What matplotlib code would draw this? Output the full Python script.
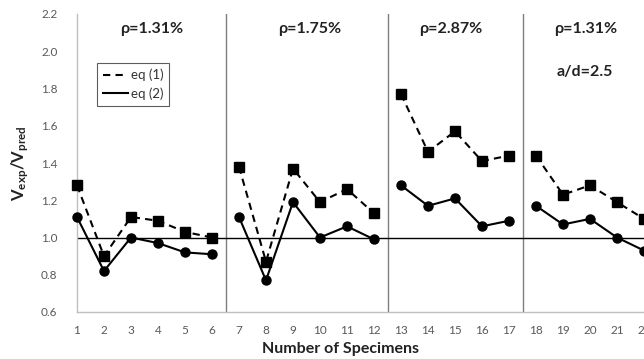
import matplotlib
matplotlib.use("Agg")
import matplotlib.pyplot as plt
from matplotlib.lines import Line2D

plt.rcParams['font.family'] = ['Lato', 'DejaVu Sans']
plt.rcParams['mathtext.fontset'] = 'custom'
plt.rcParams['mathtext.rm'] = 'Lato'
plt.rcParams['mathtext.bf'] = 'Lato:bold'

# Data
groups_x = [[1, 2, 3, 4, 5, 6], [7, 8, 9, 10, 11, 12], [13, 14, 15, 16, 17], [18, 19, 20, 21, 22]]
eq1 = [[1.28, 0.90, 1.11, 1.09, 1.03, 1.00],
       [1.38, 0.87, 1.37, 1.19, 1.26, 1.13],
       [1.77, 1.46, 1.57, 1.41, 1.44],
       [1.44, 1.23, 1.28, 1.19, 1.10]]
eq2 = [[1.11, 0.82, 1.00, 0.97, 0.92, 0.91],
       [1.11, 0.77, 1.19, 1.00, 1.06, 0.99],
       [1.28, 1.17, 1.21, 1.06, 1.09],
       [1.17, 1.07, 1.10, 1.00, 0.93]]
group_labels = ['ρ=1.31%', 'ρ=1.75%', 'ρ=2.87%', 'ρ=1.31%']
label_x = [3.75, 9.6, 14.85, 19.85]
separators = [6.5, 12.5, 17.5]
yticks = [0.6, 0.8, 1.0, 1.2, 1.4, 1.6, 1.8, 2.0, 2.2]
xticks = list(range(1, 23))

fig = plt.figure(figsize=(6.44, 3.59), dpi=100)
ax = fig.add_axes([77/644, 1-312/359, 1-77/644, (312-14)/359])

for gx, a, b in zip(groups_x, eq1, eq2):
    ax.plot(gx, a, color='black', linestyle=(0, (3.5, 2.5)), linewidth=1.5,
            marker='s', markersize=6.5, clip_on=False, zorder=4)
    ax.plot(gx, b, color='black', linestyle='-', linewidth=1.5,
            marker='o', markersize=6.5, clip_on=False, zorder=4)

for s in separators:
    ax.axvline(s, color='#7f7f7f', linewidth=1.0, zorder=1)
ax.axhline(1.0, color='black', linewidth=1.0, zorder=2)

for lx, lab in zip(label_x, group_labels):
    ax.text(lx, 2.12, lab, ha='center', va='center', fontsize=11.5, fontweight='bold', color='#222222')
ax.text(19.8, 1.89, 'a/d=2.5', ha='center', va='center', fontsize=11.5, fontweight='bold', color='#222222')

ax.set_xlim(1, 22)
ax.set_ylim(0.6, 2.2)
ax.set_yticks(yticks)
ax.set_yticklabels([f'{v:.1f}' for v in yticks])
ax.set_xticks(xticks)
ax.set_xticklabels([str(v) for v in xticks])
ax.tick_params(axis='both', length=0, labelsize=8.5, labelcolor='#595959')
ax.tick_params(axis='x', pad=9)
ax.tick_params(axis='y', pad=14)

for sp in ['top', 'right']:
    ax.spines[sp].set_visible(False)
ax.spines['left'].set_color('#bfbfbf')
ax.spines['bottom'].set_color('#bfbfbf')
ax.spines['left'].set_linewidth(1.0)
ax.spines['bottom'].set_linewidth(1.0)

ax.set_xlabel('Number of Specimens', fontsize=11.5, fontweight='bold', color='#222222')
ax.xaxis.set_label_coords((340-77)/567, -(349-312)/298, transform=ax.transAxes)
ax.xaxis.label.set_va('center')
ax.set_ylabel(r'$\mathbf{V_{exp}/V_{pred}}$', fontsize=12, color='#222222')
ax.yaxis.set_label_coords(-(77-20)/567, 0.5, transform=ax.transAxes)
ax.yaxis.label.set_va('center')

handles = [Line2D([], [], color='black', linestyle=(0, (3.5, 2.5)), linewidth=1.5),
           Line2D([], [], color='black', linestyle='-', linewidth=1.5)]
leg = ax.legend(handles, ['eq (1)', 'eq (2)'], loc='upper left', bbox_to_anchor=(20/567, 1-(63-14)/298),
                fontsize=9.5, frameon=True, fancybox=False, handlelength=1.9, handletextpad=0.2,
                borderpad=0.45, labelspacing=0.45, borderaxespad=0)
leg.get_frame().set_edgecolor('#333333')
leg.get_frame().set_linewidth(0.8)
for t in leg.get_texts():
    t.set_color('#333333')

fig.savefig('out.png', dpi=100)
